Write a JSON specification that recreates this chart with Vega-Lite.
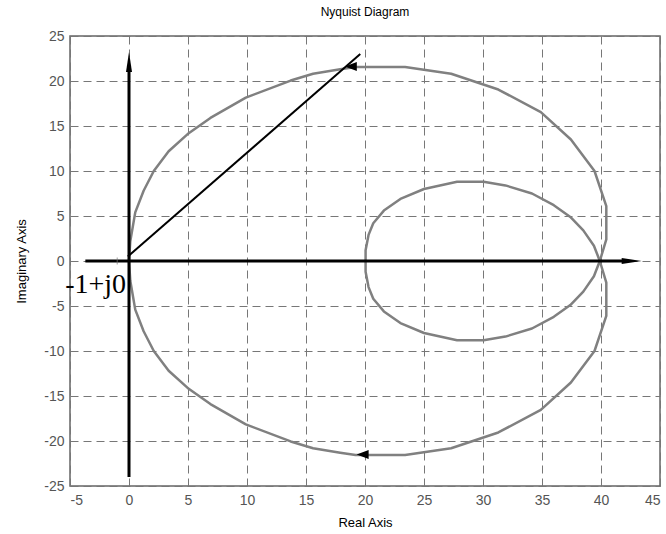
{
  "$schema": "https://vega.github.io/schema/vega-lite/v6.json",
  "width": 590,
  "height": 450,
  "autosize": {"type": "none"},
  "padding": {"left": 70, "top": 36, "right": 6, "bottom": 48},
  "background": "white",
  "title": {"text": "Nyquist Diagram", "font": "Liberation Sans", "fontSize": 12, "fontWeight": "normal", "color": "black", "offset": 10},
  "config": {
    "view": {"stroke": "#666666", "strokeWidth": 1.5},
    "axis": {
      "grid": true, "gridDash": [8, 5], "gridColor": "#777777", "gridOpacity": 1, "gridWidth": 1,
      "domain": false, "ticks": false,
      "labelFont": "Liberation Sans", "labelFontSize": 14, "labelColor": "#555555",
      "labelExpr": "replace(datum.label, '\u2212', '-')",
      "titleFont": "Liberation Sans", "titleFontSize": 13, "titleFontWeight": "normal", "titleColor": "black"
    }
  },
  "datasets": {
    "curve": [
      {"part": "outer", "i": 0, "x": 39.9, "y": 0},
      {"part": "outer", "i": 1, "x": 40.45, "y": 2.4},
      {"part": "outer", "i": 2, "x": 40.45, "y": 6.1},
      {"part": "outer", "i": 3, "x": 39.45, "y": 10.0},
      {"part": "outer", "i": 4, "x": 37.45, "y": 13.5},
      {"part": "outer", "i": 5, "x": 34.9, "y": 16.55},
      {"part": "outer", "i": 6, "x": 31.3, "y": 19.05},
      {"part": "outer", "i": 7, "x": 27.3, "y": 20.8},
      {"part": "outer", "i": 8, "x": 23.4, "y": 21.55},
      {"part": "outer", "i": 9, "x": 19.2, "y": 21.55},
      {"part": "outer", "i": 10, "x": 17.9, "y": 21.3},
      {"part": "outer", "i": 11, "x": 15.6, "y": 20.8},
      {"part": "outer", "i": 12, "x": 13.7, "y": 20.05},
      {"part": "outer", "i": 13, "x": 9.9, "y": 18.15},
      {"part": "outer", "i": 14, "x": 6.9, "y": 15.9},
      {"part": "outer", "i": 15, "x": 4.97, "y": 14.1},
      {"part": "outer", "i": 16, "x": 3.36, "y": 12.2},
      {"part": "outer", "i": 17, "x": 2.1, "y": 10.0},
      {"part": "outer", "i": 18, "x": 1.24, "y": 7.8},
      {"part": "outer", "i": 19, "x": 0.53, "y": 5.4},
      {"part": "outer", "i": 20, "x": 0.11, "y": 2.2},
      {"part": "outer", "i": 21, "x": 0, "y": 0},
      {"part": "outer", "i": 22, "x": 0.11, "y": -2.2},
      {"part": "outer", "i": 23, "x": 0.53, "y": -5.4},
      {"part": "outer", "i": 24, "x": 1.24, "y": -7.8},
      {"part": "outer", "i": 25, "x": 2.1, "y": -10.0},
      {"part": "outer", "i": 26, "x": 3.36, "y": -12.2},
      {"part": "outer", "i": 27, "x": 4.97, "y": -14.1},
      {"part": "outer", "i": 28, "x": 6.9, "y": -15.9},
      {"part": "outer", "i": 29, "x": 9.9, "y": -18.15},
      {"part": "outer", "i": 30, "x": 13.7, "y": -20.05},
      {"part": "outer", "i": 31, "x": 15.6, "y": -20.8},
      {"part": "outer", "i": 32, "x": 17.9, "y": -21.3},
      {"part": "outer", "i": 33, "x": 19.2, "y": -21.55},
      {"part": "outer", "i": 34, "x": 23.4, "y": -21.55},
      {"part": "outer", "i": 35, "x": 27.3, "y": -20.8},
      {"part": "outer", "i": 36, "x": 31.3, "y": -19.05},
      {"part": "outer", "i": 37, "x": 34.9, "y": -16.55},
      {"part": "outer", "i": 38, "x": 37.45, "y": -13.5},
      {"part": "outer", "i": 39, "x": 39.45, "y": -10.0},
      {"part": "outer", "i": 40, "x": 40.45, "y": -6.1},
      {"part": "outer", "i": 41, "x": 40.45, "y": -2.4},
      {"part": "outer", "i": 42, "x": 39.9, "y": 0},
      {"part": "inner", "i": 0, "x": 39.9, "y": 0},
      {"part": "inner", "i": 1, "x": 39.4, "y": 1.7},
      {"part": "inner", "i": 2, "x": 38.5, "y": 3.4},
      {"part": "inner", "i": 3, "x": 37.4, "y": 4.9},
      {"part": "inner", "i": 4, "x": 36.0, "y": 6.2},
      {"part": "inner", "i": 5, "x": 34.15, "y": 7.5},
      {"part": "inner", "i": 6, "x": 31.9, "y": 8.4},
      {"part": "inner", "i": 7, "x": 30.05, "y": 8.8},
      {"part": "inner", "i": 8, "x": 27.8, "y": 8.8},
      {"part": "inner", "i": 9, "x": 25.0, "y": 8.0},
      {"part": "inner", "i": 10, "x": 23.0, "y": 6.9},
      {"part": "inner", "i": 11, "x": 21.6, "y": 5.6},
      {"part": "inner", "i": 12, "x": 20.7, "y": 4.2},
      {"part": "inner", "i": 13, "x": 20.3, "y": 2.9},
      {"part": "inner", "i": 14, "x": 20.05, "y": 1.2},
      {"part": "inner", "i": 15, "x": 20.05, "y": 0},
      {"part": "inner", "i": 16, "x": 20.05, "y": -1.2},
      {"part": "inner", "i": 17, "x": 20.3, "y": -2.9},
      {"part": "inner", "i": 18, "x": 20.7, "y": -4.2},
      {"part": "inner", "i": 19, "x": 21.6, "y": -5.6},
      {"part": "inner", "i": 20, "x": 23.0, "y": -6.9},
      {"part": "inner", "i": 21, "x": 25.0, "y": -8.0},
      {"part": "inner", "i": 22, "x": 27.8, "y": -8.8},
      {"part": "inner", "i": 23, "x": 30.05, "y": -8.8},
      {"part": "inner", "i": 24, "x": 31.9, "y": -8.4},
      {"part": "inner", "i": 25, "x": 34.15, "y": -7.5},
      {"part": "inner", "i": 26, "x": 36.0, "y": -6.2},
      {"part": "inner", "i": 27, "x": 37.4, "y": -4.9},
      {"part": "inner", "i": 28, "x": 38.5, "y": -3.4},
      {"part": "inner", "i": 29, "x": 39.4, "y": -1.7},
      {"part": "inner", "i": 30, "x": 39.9, "y": 0}
    ],
    "axes": [
      {"seg": "h", "x": -3.7, "y": 0},
      {"seg": "h", "x": 41.8, "y": 0},
      {"seg": "v", "x": 0, "y": -24.0},
      {"seg": "v", "x": 0, "y": 21.0}
    ],
    "diag": [
      {"x": -0.1, "y": 0.5},
      {"x": 19.6, "y": 23.0}
    ]
  },
  "encoding": {
    "x": {"field": "x", "type": "quantitative",
      "scale": {"domain": [-5, 45], "nice": false, "zero": false},
      "axis": {"values": [-5, 0, 5, 10, 15, 20, 25, 30, 35, 40, 45], "title": "Real Axis", "labelPadding": 7, "titlePadding": 9}},
    "y": {"field": "y", "type": "quantitative",
      "scale": {"domain": [-25, 25], "nice": false, "zero": false},
      "axis": {"values": [-25, -20, -15, -10, -5, 0, 5, 10, 15, 20, 25], "title": "Imaginary Axis", "labelPadding": 6, "titlePadding": 15}}
  },
  "layer": [
    {
      "data": {"name": "curve"},
      "mark": {"type": "line", "color": "#808080", "strokeWidth": 2.5, "strokeJoin": "round"},
      "encoding": {"detail": {"field": "part"}, "order": {"field": "i", "type": "quantitative"}}
    },
    {
      "data": {"name": "axes"},
      "mark": {"type": "line", "color": "black", "strokeWidth": 3},
      "encoding": {"detail": {"field": "seg"}}
    },
    {
      "data": {"name": "diag"},
      "mark": {"type": "line", "color": "black", "strokeWidth": 2},
      "encoding": {}
    },
    {
      "data": {"values": [{"x": -1, "y": 0}]},
      "mark": {"type": "tick", "orient": "vertical", "color": "#777777", "size": 7, "thickness": 1}
    },
    {
      "data": {"values": [{"x": 18.8, "y": 21.6}, {"x": 19.8, "y": -21.5}]},
      "mark": {"type": "point", "shape": "M-1,0L1,-0.75L1,0.75Z", "size": 144, "filled": true, "color": "black", "opacity": 1}
    },
    {
      "data": {"values": [{"x": 42.6, "y": 0}]},
      "mark": {"type": "point", "shape": "M1,0L-1,-0.3L-1,0.3Z", "size": 400, "filled": true, "color": "black", "opacity": 1}
    },
    {
      "data": {"values": [{"x": 0, "y": 22.1}]},
      "mark": {"type": "point", "shape": "M0,-1L-0.3,1L0.3,1Z", "size": 400, "filled": true, "color": "black", "opacity": 1}
    },
    {
      "data": {"values": [{"label": "-1+j0", "x": -0.25, "y": -3.6}]},
      "mark": {"type": "text", "font": "Liberation Serif", "fontSize": 28, "align": "right", "baseline": "alphabetic", "color": "black"},
      "encoding": {"text": {"field": "label"}}
    }
  ]
}
